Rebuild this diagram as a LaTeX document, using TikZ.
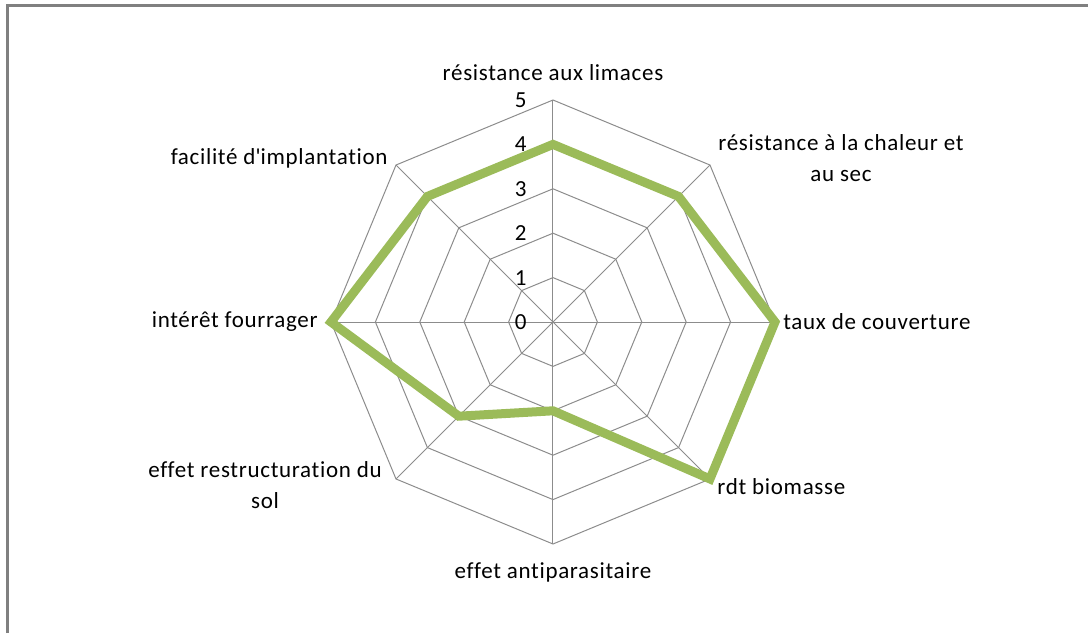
\documentclass[tikz,border=0pt]{standalone}
\usepackage{fontspec}
\setmainfont{Carlito}[Ligatures=NoCommon, LetterSpace=3]

\definecolor{seriegreen}{RGB}{155,187,89}
\definecolor{gridgray}{RGB}{140,140,140}
\definecolor{framegray}{RGB}{128,128,128}

\tikzstyle{grid} = [draw=gridgray, line width=0.5pt]
\tikzstyle{serie} = [draw=seriegreen, line width=4.5pt]
\tikzstyle{axislabel} = [font=\fontsize{11.5}{15.5}\selectfont, align=center, inner sep=0pt]
\tikzstyle{ticklabel} = [font=\fontsize{11.5}{13}\selectfont, anchor=east, inner sep=0pt]

\begin{document}
\begin{tikzpicture}[x=0.5pt, y=0.5pt]
			\useasboundingbox (-553,-311) rectangle (535,322);
			% frame
			\draw [draw=framegray, line width=1.5pt] (-545,-311) -- (-545,317) -- (535,317);

			% grid
			\foreach \k [evaluate=\k as \r using 44.4*\k] in {1,...,5}
				\draw [grid] (0:\r) \foreach \a in {45,90,...,315} { -- (\a:\r) } -- cycle;
			\foreach \a in {0,45,...,315}
				\draw [grid] (0,0) -- (\a:222);

			% scale
			\foreach \k in {0,...,5}
				\node (t\k) [ticklabel] at (-26, 44.4*\k) {\k};

			% serie
			\coordinate (p1) at (90:4*44.4);
			\coordinate (p2) at (45:4*44.4);
			\coordinate (p3) at (0:5*44.4);
			\coordinate (p4) at (-45:5*44.4);
			\coordinate (p5) at (-90:2*44.4);
			\coordinate (p6) at (-135:3*44.4);
			\coordinate (p7) at (180:5*44.4);
			\coordinate (p8) at (135:4*44.4);
			\draw [serie] (p1) -- (p2) -- (p3) -- (p4) -- (p5) -- (p6) -- (p7) -- (p8) -- cycle;

			% axes
			\node (limaces) [axislabel] at (0, 249) {résistance aux limaces};
			\node (chaleur) [axislabel] at (288, 164) {résistance à la chaleur et\\au sec};
			\node (couverture) [axislabel, anchor=west] at (230, 0) {taux de couverture};
			\node (biomasse) [axislabel, anchor=west] at (164, -165) {rdt biomasse};
			\node (antiparasitaire) [axislabel] at (0, -250) {effet antiparasitaire};
			\node (restructuration) [axislabel] at (-288, -163) {effet restructuration du\\sol};
			\node (fourrager) [axislabel, anchor=east] at (-235, 0) {intérêt fourrager};
			\node (implantation) [axislabel, anchor=east] at (-165, 164) {facilité d\textquotesingle implantation};
		\end{tikzpicture}
\end{document}
